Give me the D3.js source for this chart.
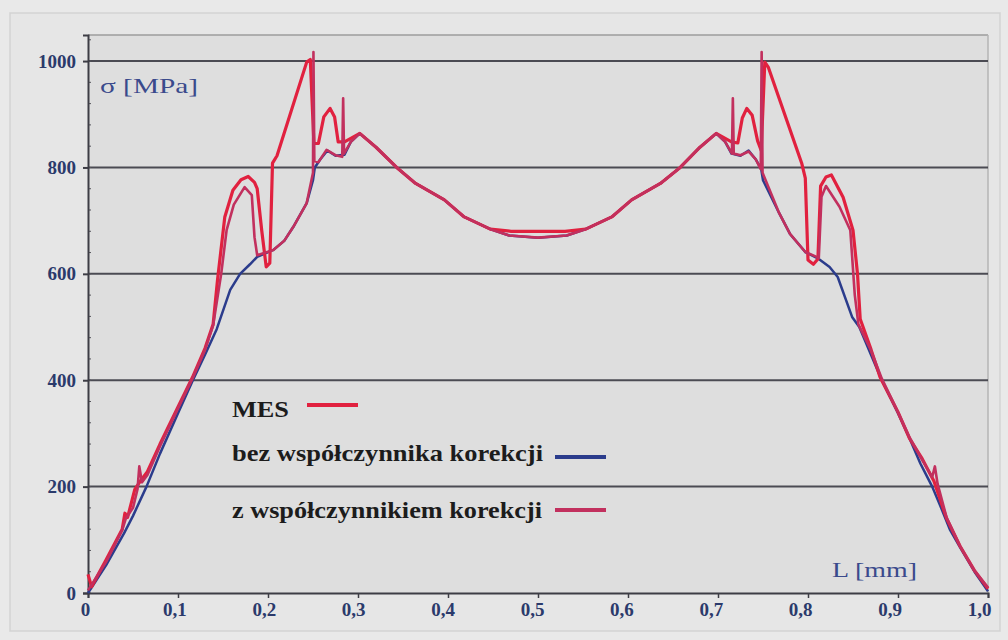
<!DOCTYPE html>
<html>
<head>
<meta charset="utf-8">
<script src="https://cdn.jsdelivr.net/npm/d3@7"></script>
<style>
  body { margin: 0; background: #e9e9e9; }
  svg { display: block; }
  text { font-family: "Liberation Serif", "Times New Roman", serif; font-weight: bold; }
</style>
</head>
<body>
<div id="chart"></div>
<script>
// L [mm] vs sigma [MPa]
var mesData = [
  [0,35],[0.004,12],[0.02,62],[0.038,120],[0.041,150],[0.044,142],[0.052,195],[0.058,210],
  [0.066,228],[0.08,280],[0.1,350],[0.116,405],[0.13,460],[0.139,505],[0.144,590],[0.152,707],
  [0.161,757],[0.17,777],[0.178,783],[0.185,772],[0.188,760],[0.193,682],[0.198,613],[0.202,620],
  [0.205,808],[0.21,822],[0.243,998],[0.247,1003],[0.251,845],[0.256,845],[0.262,895],[0.269,911],
  [0.274,895],[0.278,848],[0.285,848],[0.302,864],[0.32,838],[0.343,800],[0.364,770],[0.396,739],
  [0.418,707],[0.447,684],[0.47,680],[0.5,680],[0.53,680],[0.553,684],[0.582,707],[0.604,739],
  [0.636,770],[0.658,800],[0.68,838],[0.698,864],[0.715,848],[0.722,846],[0.727,893],[0.732,911],
  [0.738,898],[0.744,850],[0.748,832],[0.752,998],[0.756,988],[0.793,808],[0.797,780],[0.8,626],
  [0.806,618],[0.811,628],[0.814,765],[0.82,782],[0.826,786],[0.839,744],[0.85,682],[0.855,600],
  [0.858,515],[0.87,458],[0.88,406],[0.9,340],[0.913,290],[0.927,252],[0.94,210],[0.954,140],
  [0.969,88],[0.985,42],[1.0,8]
]

var bezData = [
  [0,0],[0.02,52],[0.04,112],[0.05,145],[0.065,200],[0.08,262],[0.1,338],[0.116,398],[0.13,448],
  [0.143,496],[0.158,570],[0.169,600],[0.18,618],[0.188,632],[0.206,645],[0.218,662],[0.228,688],
  [0.243,733],[0.25,776],[0.252,800],[0.258,815],[0.266,832],[0.275,822],[0.285,824],[0.292,848],
  [0.302,864],[0.32,838],[0.343,800],[0.364,770],[0.396,739],[0.418,707],[0.447,684],[0.468,672],
  [0.5,668],[0.532,672],[0.553,684],[0.582,707],[0.604,739],[0.636,770],[0.658,800],[0.68,838],
  [0.698,864],[0.708,848],[0.715,826],[0.725,822],[0.734,832],[0.742,815],[0.748,797],[0.75,776],
  [0.768,714],[0.78,675],[0.797,641],[0.812,628],[0.824,613],[0.833,594],[0.849,519],[0.857,500],
  [0.87,448],[0.882,400],[0.9,338],[0.913,290],[0.925,243],[0.938,200],[0.948,160],[0.958,118],
  [0.969,86],[0.985,40],[1.0,3]
]

var zData = [
  [0,5],[0.02,58],[0.038,118],[0.042,140],[0.05,160],[0.055,195],[0.057,238],[0.06,208],[0.066,222],
  [0.08,276],[0.1,347],[0.116,403],[0.13,457],[0.139,503],[0.148,600],[0.154,682],[0.162,730],
  [0.174,763],[0.182,748],[0.185,669],[0.188,635],[0.206,645],[0.218,662],[0.228,688],[0.243,733],
  [0.25,790],[0.2505,1017],[0.2515,812],[0.256,810],[0.265,833],[0.275,823],[0.2825,820],[0.2835,930],
  [0.2845,826],[0.292,848],[0.302,864],[0.32,838],[0.343,800],[0.364,770],[0.396,739],[0.418,707],
  [0.447,684],[0.468,672],[0.5,668],[0.532,672],[0.553,684],[0.582,707],[0.604,739],[0.636,770],
  [0.658,800],[0.68,838],[0.698,864],[0.708,848],[0.7155,826],[0.7165,930],[0.7175,826],[0.725,823],
  [0.734,830],[0.742,815],[0.7475,797],[0.7485,1017],[0.7495,790],[0.768,714],[0.78,675],[0.797,641],
  [0.812,630],[0.815,745],[0.82,765],[0.835,726],[0.847,682],[0.852,560],[0.856,505],[0.87,456],
  [0.882,403],[0.9,340],[0.913,292],[0.927,250],[0.938,218],[0.941,238],[0.944,205],[0.954,142],
  [0.969,88],[0.985,42],[1.0,10]
]

var yTicks = [0, 200, 400, 600, 800, 1000]
var xTicks = [0, 0.1, 0.2, 0.3, 0.4, 0.5, 0.6, 0.7, 0.8, 0.9, 1.0]
var xTickLabels = ['0', '0,1', '0,2', '0,3', '0,4', '0,5', '0,6', '0,7', '0,8', '0,9', '1,0']
var legendLabels = ['MES', 'bez współczynnika korekcji', 'z współczynnikiem korekcji']
var seriesColors = ['#e1213f', '#2b3c8c', '#c2305e']

var w = 1008
var h = 640
var plotLeft = 88, plotRight = 988, plotTop = 35, plotBottom = 593

var svg = d3.select('#chart').append('svg')
  .attr('width', w)
  .attr('height', h)

svg.append('rect').attr('width', w).attr('height', h).attr('fill', '#e9e9e9')
svg.append('rect')
  .attr('x', 10).attr('y', 13).attr('width', 990).attr('height', 618)
  .attr('fill', '#e6e6e6').attr('stroke', '#d3d3d3').attr('stroke-width', 1.5)

var x = d3.scaleLinear().domain([0, 1]).range([plotLeft, plotRight])
var y = d3.scaleLinear().domain([0, 1049]).range([plotBottom, plotTop])

// plot area
svg.append('rect')
  .attr('x', plotLeft).attr('y', plotTop)
  .attr('width', plotRight - plotLeft).attr('height', plotBottom - plotTop)
  .attr('fill', '#dedede')
svg.append('line')
  .attr('x1', plotLeft).attr('x2', plotRight).attr('y1', plotTop).attr('y2', plotTop)
  .attr('stroke', '#9c9c9c').attr('stroke-width', 1.5)
svg.append('line')
  .attr('x1', plotRight).attr('x2', plotRight).attr('y1', plotTop).attr('y2', plotBottom)
  .attr('stroke', '#b4b4b4').attr('stroke-width', 1.5)

// grid
svg.append('g').selectAll('line')
  .data(yTicks.filter(function(d) { return d > 0 }))
  .enter().append('line')
  .attr('x1', plotLeft).attr('x2', plotRight)
  .attr('y1', function(d) { return y(d) }).attr('y2', function(d) { return y(d) })
  .attr('stroke', '#4b4b53').attr('stroke-width', 2)

// minor ticks on y axis
svg.append('g').selectAll('line')
  .data(d3.range(0, 1041, 40))
  .enter().append('line')
  .attr('x1', plotLeft).attr('x2', plotLeft + 3)
  .attr('y1', function(d) { return y(d) }).attr('y2', function(d) { return y(d) })
  .attr('stroke', '#55555c').attr('stroke-width', 1)

var yAxis = svg.append('g')
  .attr('transform', 'translate(' + plotLeft + ',0)')
  .call(d3.axisLeft(y).tickValues(yTicks).tickFormat(d3.format('d')).tickSize(5).tickPadding(7))
yAxis.attr('font-family', null)
yAxis.select('.domain').attr('stroke', '#3d3d45').attr('stroke-width', 2)
yAxis.selectAll('.tick line').attr('stroke', '#3d3d45').attr('stroke-width', 2)
yAxis.selectAll('text')
  .attr('fill', '#2b3a6b').style('font-size', '19px')

var xAxis = svg.append('g')
  .attr('transform', 'translate(0,' + plotBottom + ')')
  .call(d3.axisBottom(x).tickValues(xTicks)
    .tickFormat(function(d, i) { return xTickLabels[i] })
    .tickSize(5).tickPadding(5))
xAxis.attr('font-family', null)
xAxis.select('.domain').attr('stroke', '#3d3d45').attr('stroke-width', 2)
xAxis.selectAll('.tick line').attr('stroke', '#3d3d45').attr('stroke-width', 1.5)
xAxis.selectAll('text')
  .attr('fill', '#2b3a6b').style('font-size', '19px')
  .attr('dx', function(d) { return -3 - 6 * d })

// axis titles
svg.append('text')
  .attr('x', 100).attr('y', 93)
  .attr('textLength', 98).attr('lengthAdjust', 'spacingAndGlyphs')
  .attr('fill', '#3a4a8c').style('font-size', '22px').style('font-weight', 'normal')
  .text('σ [MPa]')
svg.append('text')
  .attr('x', 832).attr('y', 577)
  .attr('textLength', 85).attr('lengthAdjust', 'spacingAndGlyphs')
  .attr('fill', '#3a4a8c').style('font-size', '22px').style('font-weight', 'normal')
  .text('L [mm]')

// series
var line = d3.line()
  .x(function(d) { return x(d[0]) })
  .y(function(d) { return y(d[1]) })

var plot = svg.append('g')
plot.append('path').datum(bezData)
  .attr('d', line).attr('fill', 'none')
  .attr('stroke', seriesColors[1]).attr('stroke-width', 2.5).attr('stroke-linejoin', 'round')
plot.append('path').datum(mesData)
  .attr('d', line).attr('fill', 'none')
  .attr('stroke', seriesColors[0]).attr('stroke-width', 3.2).attr('stroke-linejoin', 'round')
plot.append('path').datum(zData)
  .attr('d', line).attr('fill', 'none')
  .attr('stroke', seriesColors[2]).attr('stroke-width', 2.6).attr('stroke-linejoin', 'round')

// legend
var legendPos = [
  {tx: 232, ty: 417, tw: 57, lx: 307, ly: 405},
  {tx: 232, ty: 461, tw: 311, lx: 555, ly: 457},
  {tx: 232, ty: 518, tw: 310, lx: 555, ly: 510}
]
var legend = svg.append('g')
legendLabels.forEach(function(label, i) {
  var p = legendPos[i]
  legend.append('text')
    .attr('x', p.tx).attr('y', p.ty)
    .attr('textLength', p.tw).attr('lengthAdjust', 'spacingAndGlyphs')
    .attr('fill', '#1c1c1c').style('font-size', '23px')
    .text(label)
  legend.append('line')
    .attr('x1', p.lx).attr('x2', p.lx + 51)
    .attr('y1', p.ly).attr('y2', p.ly)
    .attr('stroke', seriesColors[i]).attr('stroke-width', 4)
})
</script>
</body>
</html>
